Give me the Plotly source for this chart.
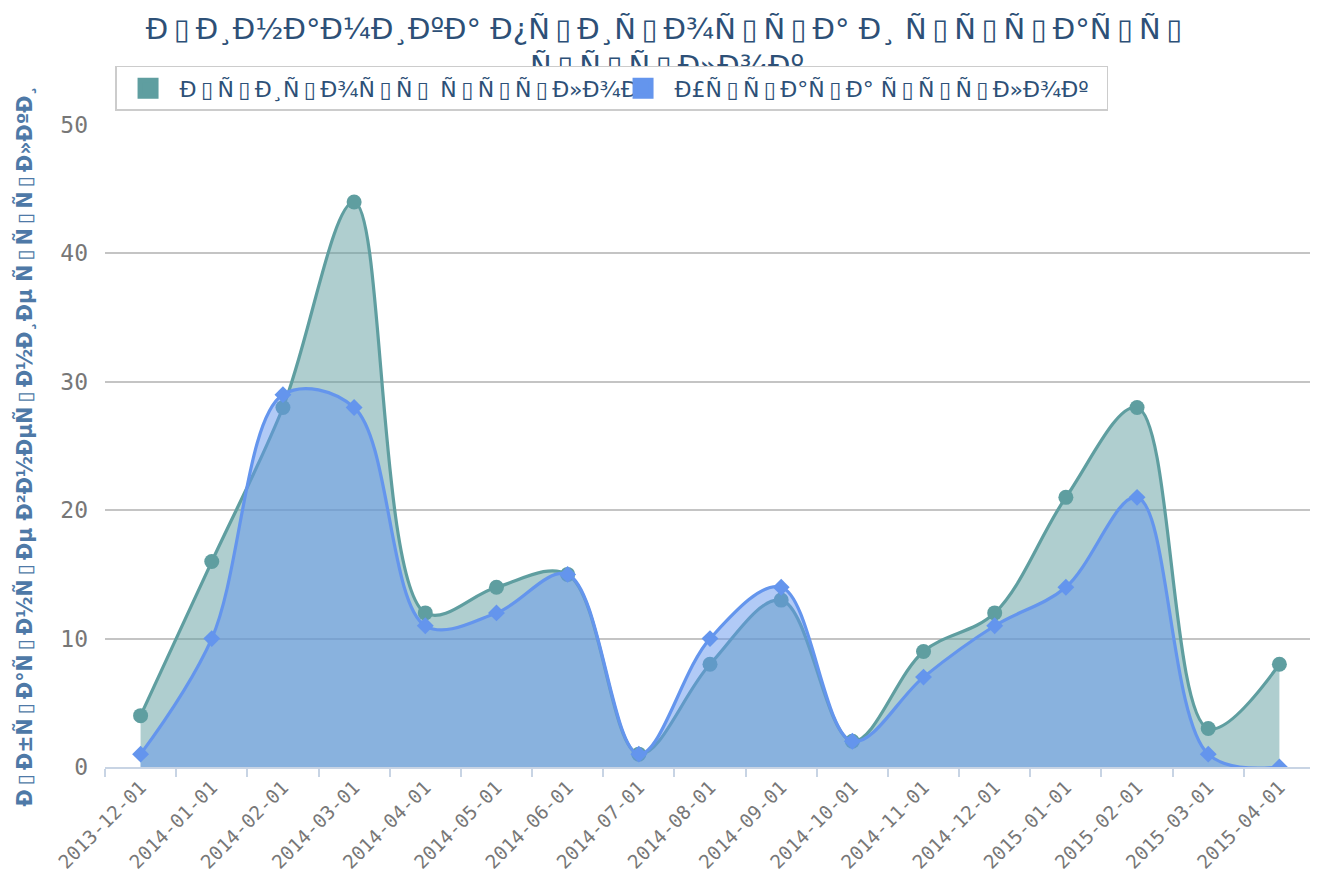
import plotly.graph_objects as go

# Text as it appears in the reference: Russian UTF-8 shown as Latin-1 mojibake,
# with the unprintable C1 bytes drawn as empty boxes
def moj(s):
    t = s.encode("utf-8").decode("latin-1")
    return "".join("\u2009\u25af\u2009" if 0x80 <= ord(c) <= 0x9f else c for c in t)

title_text = moj("Динамика прироста и утраты") + "<br>" + moj("ссылок")
y_title = moj("Обратные внешние ссылки")
name_gain = moj("Прирост ссылок")
name_loss = moj("Утрата ссылок")

months = ["2013-12-01", "2014-01-01", "2014-02-01", "2014-03-01", "2014-04-01",
          "2014-05-01", "2014-06-01", "2014-07-01", "2014-08-01", "2014-09-01",
          "2014-10-01", "2014-11-01", "2014-12-01", "2015-01-01", "2015-02-01",
          "2015-03-01", "2015-04-01"]
gain = [4, 16, 28, 44, 12, 14, 15, 1, 8, 13, 2, 9, 12, 21, 28, 3, 8]
loss = [1, 10, 29, 28, 11, 12, 15, 1, 10, 14, 2, 7, 11, 14, 21, 1, 0]
y_ticks = [0, 10, 20, 30, 40, 50]

teal = "#5f9ea0"
blue = "#6495ed"

fig = go.Figure()
fig.add_trace(go.Scatter(
    x=months, y=gain, name=name_gain, mode="lines+markers",
    line=dict(color=teal, width=3.2, shape="spline", smoothing=1.0),
    marker=dict(symbol="circle", size=15, color=teal),
    fill="tozeroy", fillcolor="rgba(95,158,160,0.5)", showlegend=False))
fig.add_trace(go.Scatter(
    x=months, y=loss, name=name_loss, mode="lines+markers",
    line=dict(color=blue, width=3.2, shape="spline", smoothing=1.0),
    marker=dict(symbol="diamond", size=13, color=blue),
    fill="tozeroy", fillcolor="rgba(100,149,237,0.5)", showlegend=False))
# legend swatches
for nm, col in [(name_gain, teal), (name_loss, blue)]:
    fig.add_trace(go.Scatter(
        x=[None], y=[None], name=nm, mode="markers",
        marker=dict(symbol="square", size=16, color=col,
                    line=dict(color=col, width=5))))

fig.update_layout(
    width=1318, height=876,
    paper_bgcolor="white", plot_bgcolor="white",
    margin=dict(l=97, r=11, t=117, b=117),
    title=dict(text=title_text, x=0.5, xref="container", xanchor="center",
               y=0.965, yref="container", yanchor="top",
               font=dict(family="DejaVu Sans", size=29, color="#2d5077")),
    legend=dict(orientation="h", x=0.0083, y=1.092, xanchor="left", yanchor="top",
                bgcolor="white", bordercolor="#cccccc", borderwidth=1.5,
                font=dict(family="DejaVu Sans", size=22, color="#2d5077"),
                entrywidth=427, entrywidthmode="pixels", itemwidth=53),
    showlegend=True,
    xaxis=dict(type="category", range=[-0.5, 16.5], tickson="boundaries",
               showgrid=False, showline=True, linecolor="#c8d4e4", linewidth=2,
               ticks="outside", ticklen=8, tickcolor="#c8d4e4", tickwidth=2,
               tickangle=-45,
               tickfont=dict(family="DejaVu Sans Mono", size=19, color="#777777")),
    yaxis=dict(range=[0, 50], tickvals=y_ticks, showgrid=True,
               gridcolor="#c4c4c4", gridwidth=1.5, zeroline=False,
               showline=False, ticks="", ticklabelstandoff=16,
               tickfont=dict(family="DejaVu Sans Mono", size=23, color="#777777"),
               title=dict(text="<b>" + y_title + "</b>", standoff=22,
                          font=dict(family="DejaVu Sans", size=20.5, color="#4e79a7"))),
)

# draw the legend box above the wrapped title, as in the reference
post = ("var gd=document.getElementById('{plot_id}');"
        "var lg=gd.querySelector('g.legend');"
        "if(lg){lg.parentNode.appendChild(lg);}")
fig.write_html("out.html", post_script=post)
